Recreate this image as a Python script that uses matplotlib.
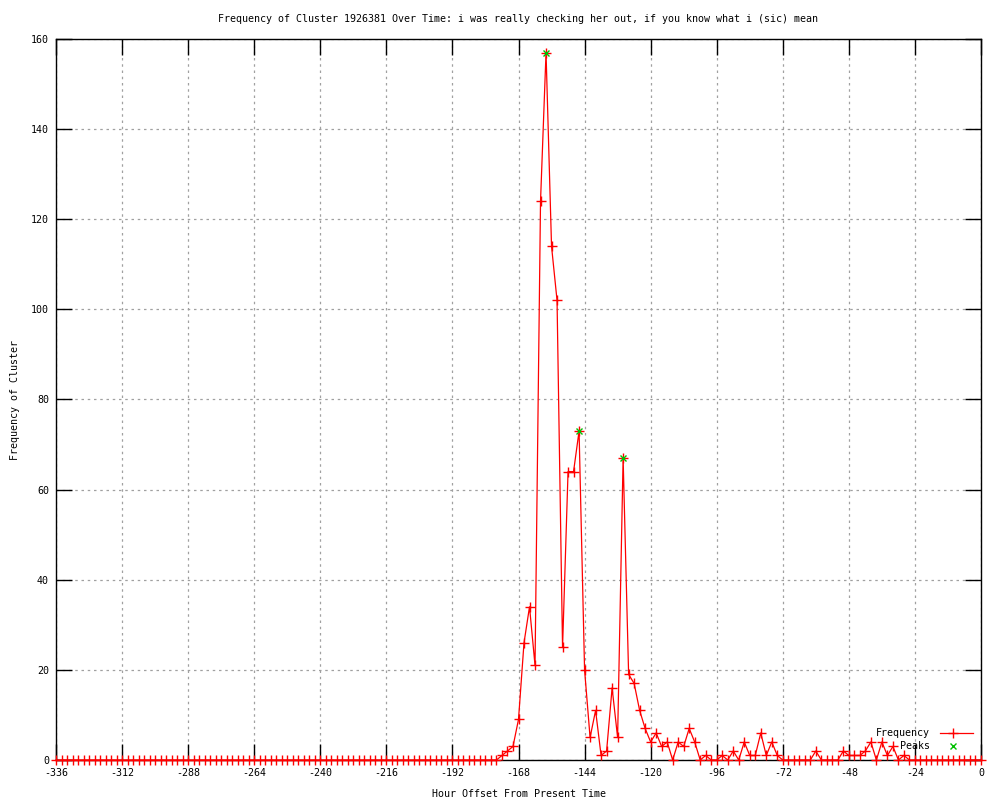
import matplotlib
matplotlib.use("Agg")
from matplotlib import pyplot as plt

# hour offsets, every 2 hours from -336 to 0
hours = list(range(-336, 1, 2))

# frequency of the cluster at each hour offset
frequency = [
	0, 0, 0, 0, 0, 0, 0, 0, 0, 0, 0, 0, 0, 0, 0, 0, 0, 0, 0, 0,   # -336 .. -298
	0, 0, 0, 0, 0, 0, 0, 0, 0, 0, 0, 0, 0, 0, 0, 0, 0, 0, 0, 0,   # -296 .. -258
	0, 0, 0, 0, 0, 0, 0, 0, 0, 0, 0, 0, 0, 0, 0, 0, 0, 0, 0, 0,   # -256 .. -218
	0, 0, 0, 0, 0, 0, 0, 0, 0, 0, 0, 0, 0, 0, 0, 0, 0, 0, 0, 0,   # -216 .. -178
	0, 1, 2, 3, 9, 26, 34, 21, 124, 157, 114, 102, 25, 64, 64, 73,  # -176 .. -146
	20, 5, 11, 1, 2, 16, 5, 67, 19, 17, 11, 7, 4, 6, 3, 4,          # -144 .. -114
	0, 4, 3, 7, 4, 0, 1, 0, 0, 1, 0, 2, 0, 4, 1, 1,                 # -112 .. -82
	6, 1, 4, 1, 0, 0, 0, 0, 0, 0, 2, 0, 0, 0, 0, 2,                 # -80 .. -50
	1, 1, 1, 2, 4, 0, 4, 1, 3, 0, 1, 0,                             # -48 .. -26
	0, 0, 0, 0, 0, 0, 0, 0, 0, 0, 0, 0, 0,                          # -24 .. 0
]

peak_hours = [-158, -146, -130]
peak_values = [157, 73, 67]

title = "Frequency of Cluster 1926381 Over Time: i was really checking her out, if you know what i (sic) mean"
x_ticks = list(range(-336, 1, 24))
y_ticks = list(range(0, 161, 20))

font = "DejaVu Sans Mono"
fs = 7.2
plt.rcParams["font.family"] = font
plt.rcParams["font.size"] = fs
plt.rcParams["axes.unicode_minus"] = False

fig = plt.figure(figsize=(10, 8), dpi=100)
ax = fig.add_axes([0.056, 0.05, 0.925, 0.90125])

ax.plot(hours, frequency, color="red", linewidth=0.9, marker="+", markersize=7,
		markeredgewidth=1.0, clip_on=False, zorder=3)
ax.plot(peak_hours, peak_values, linestyle="none", color="#00c000", marker="x",
		markersize=5, markeredgewidth=1.0, clip_on=False, zorder=4)

ax.set_xlim(-336, 0)
ax.set_ylim(0, 160)
ax.set_xticks(x_ticks)
ax.set_yticks(y_ticks)
ax.tick_params(direction="in", length=11.5, width=1, top=True, right=True, labelsize=fs)
ax.tick_params(axis="x", pad=6)
ax.tick_params(axis="y", pad=5)
ax.grid(True, color="#a0a0a0", linestyle=(0, (2, 3)), linewidth=0.9)
for sp in ax.spines.values():
	sp.set_linewidth(1)

ax.set_title(title, fontsize=fs, pad=12)
ax.set_xlabel("Hour Offset From Present Time", fontsize=fs, labelpad=8)
ax.set_ylabel("Frequency of Cluster", fontsize=fs, labelpad=8)

# gnuplot-style key, right-aligned text with samples to the right
tr = ax.transAxes
ax.text(0.945, 0.0374, "Frequency", transform=tr, ha="right", va="center", fontsize=fs)
ax.plot([0.9557, 0.9914], [0.0374, 0.0374], transform=tr, color="red", linewidth=0.9, clip_on=False)
ax.plot([0.970], [0.0374], transform=tr, color="red", marker="+", markersize=7, markeredgewidth=1.0, clip_on=False)
ax.text(0.945, 0.0194, "Peaks", transform=tr, ha="right", va="center", fontsize=fs)
ax.plot([0.970], [0.0194], transform=tr, color="#00c000", marker="x", markersize=5, markeredgewidth=1.0, clip_on=False)

fig.savefig("out.png", dpi=100)
